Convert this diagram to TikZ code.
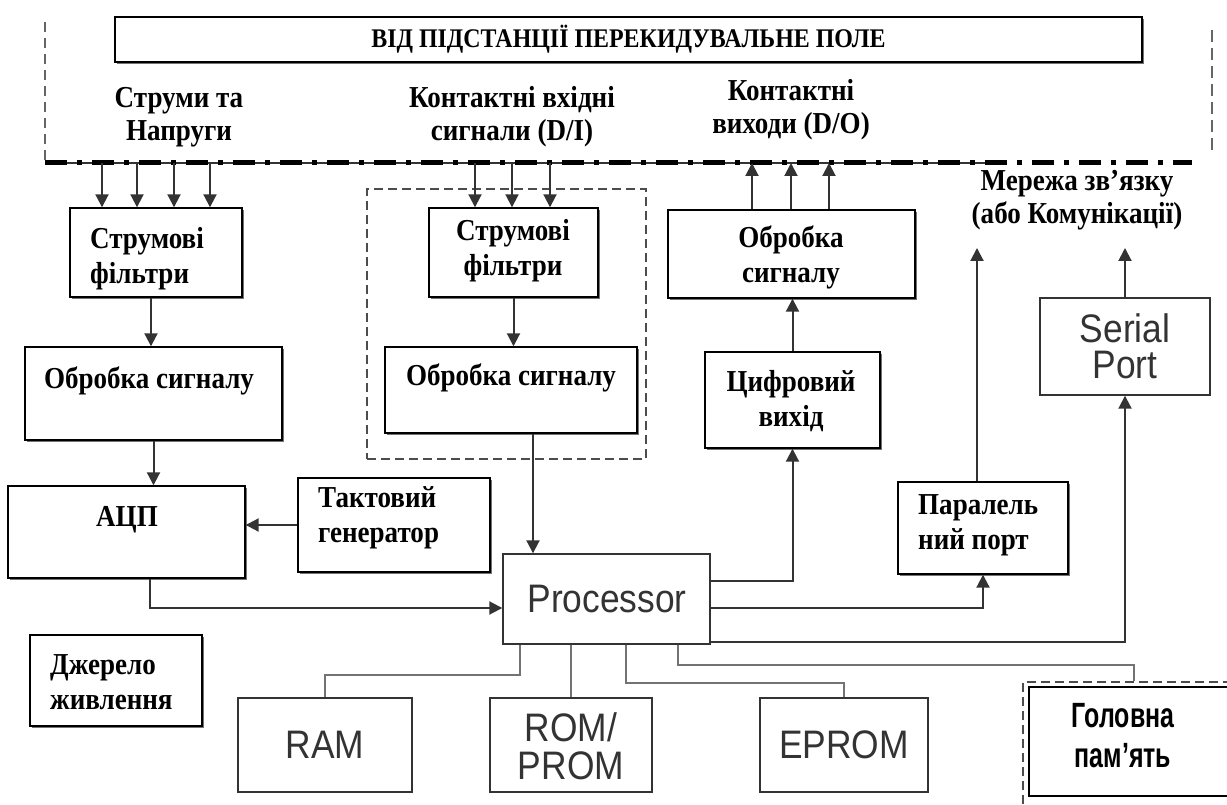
\documentclass[tikz,border=0pt]{standalone}
\usepackage{fontspec}
\usepackage{graphicx}
\setmainfont{Liberation Serif}
\newfontfamily\sansf{Liberation Sans}
\newfontfamily\narrowf[FakeStretch=0.8]{Liberation Sans}
\newcommand\sv[1]{\scalebox{1.04}[1.17]{#1}}
\usetikzlibrary{arrows.meta,fit,shadows}
\begin{document}
\begin{tikzpicture}[x=1pt,y=-1pt,
  box/.style={draw=black, line width=1.4pt, fill=white, inner sep=0pt,
    drop shadow={shadow xshift=1.6pt, shadow yshift=-1.6pt, fill=black!55, opacity=1}},
  pbox/.style={draw=black!80, line width=1.4pt, fill=white, inner sep=0pt},
  grp/.style={draw=black!70, line width=1.8pt, dash pattern=on 9pt off 5pt, inner sep=0pt},
  tx/.style={font=\fontsize{26}{35}\selectfont\bfseries, align=center, inner sep=0pt},
  txl/.style={tx, align=left, anchor=west},
  sx/.style={font=\sansf\fontsize{34}{37}\selectfont, text=black!80, align=center, inner sep=0pt},
  conn/.style={draw=black!80, line width=2pt},
  arr/.style={conn, -{Triangle[width=13pt,length=13pt]}},
  gline/.style={draw=black!55, line width=1.8pt},
]
\useasboundingbox (0,0) rectangle (1227,805);

% frame lines
\draw[draw=black!60, line width=2pt, dash pattern=on 10pt off 6pt] (45,22) -- (45,160);
\draw[draw=black!60, line width=2pt, dash pattern=on 12pt off 6pt] (1212,30) -- (1212,155);
\draw[draw=black!80, line width=1.5pt] (45,163) -- (985,163);
\draw[draw=black, line width=5pt, dash pattern=on 22pt off 10pt on 5pt off 10pt] (45,163) -- (1192,163);

% top box
\node[box, fit={(115,17) (1142,62)}] (top) {};
\node[tx, font=\fontsize{23}{25}\selectfont\bfseries] at (top.center) {\sv{ВІД ПІДСТАНЦІЇ ПЕРЕКИДУВАЛЬНЕ ПОЛЕ}};

% top labels
\node[tx, font=\fontsize{26}{33}\selectfont\bfseries] (lab1) at (179,117) {\sv{Струми та}\\\sv{Напруги}};
\node[tx, font=\fontsize{26}{33}\selectfont\bfseries] (lab2) at (512,117) {\sv{Контактні вхідні}\\\sv{сигнали (D/I)}};
\node[tx, font=\fontsize{26}{33}\selectfont\bfseries] (lab3) at (791,110) {\sv{Контактні}\\\sv{виходи (D/O)}};
\node[tx, font=\fontsize{26}{33}\selectfont\bfseries] (lab4) at (1077,200) {\sv{Мережа зв'язку}\\\sv{(або Комунікації)}};

% dashed group
\node[grp, fit={(367,189) (646,459)}] (group) {};

% boxes
\node[box, fit={(70,208) (242,297)}] (sf1) {};
\node[box, fit={(25,347) (282,440)}] (os1) {};
\node[box, fit={(8,486) (245,578)}] (adc) {};
\node[box, fit={(298,478) (490,572)}] (takt) {};
\node[box, fit={(429,208) (598,297)}] (sf2) {};
\node[box, fit={(385,347) (637,433)}] (os2) {};
\node[pbox, fit={(503,554) (710,644)}] (proc) {};
\node[box, fit={(668,210) (915,298)}] (os3) {};
\node[box, fit={(705,352) (880,448)}] (dig) {};
\node[box, fit={(898,482) (1068,574)}] (par) {};
\node[pbox, fit={(1040,298) (1210,395)}] (serial) {};
\node[box, fit={(30,635) (202,726)}] (power) {};
\node[pbox, fit={(238,698) (412,792)}] (ram) {};
\node[pbox, fit={(490,698) (652,792)}] (rom) {};
\node[pbox, fit={(760,698) (928,792)}] (eprom) {};
\node[grp, fit={(1023,682) (1250,815)}] (mainout) {};
\node[draw=black, line width=1.4pt, fill=white, inner sep=0pt, fit={(1029,687) (1245,796)}] (mainmem) {};

% texts
\node[txl] at (90,259) {\sv{Струмові}\\\sv{фільтри}};
\node[tx] at (149,381) {\sv{Обробка сигналу}};
\node[tx] at (127,520) {\sv{АЦП}};
\node[txl] at (318,518) {\sv{Тактовий}\\\sv{генератор}};
\node[tx] at (513,251) {\sv{Струмові}\\\sv{фільтри}};
\node[tx] at (511,378) {\sv{Обробка сигналу}};
\node[sx] at (607,599) {\sv{Processor}};
\node[tx] at (791,257) {\sv{Обробка}\\\sv{сигналу}};
\node[tx] at (791,401) {\sv{Цифровий}\\\sv{вихід}};
\node[txl] at (918,525) {\sv{Паралель}\\\sv{ний порт}};
\node[sx, font=\sansf\fontsize{34}{36}\selectfont] at (1125,346) {\sv{Serial}\\\sv{Port}};
\node[txl] at (50,682) {\sv{Джерело}\\\sv{живлення}};
\node[sx] at (325,745) {\sv{RAM}};
\node[sx, font=\sansf\fontsize{34}{38}\selectfont] at (571,746) {\sv{ROM/}\\\sv{PROM}};
\node[sx] at (844,745) {\sv{EPROM}};
\node[font=\narrowf\bfseries\fontsize{30}{40}\selectfont, align=center, inner sep=0pt] at (1123,736) {\sv{Головна}\\\sv{пам’ять}};

% coordinates on the field line
\coordinate (a1) at (102,163); \coordinate (a2) at (137,163);
\coordinate (a3) at (174,163); \coordinate (a4) at (210,163);
\coordinate (b1) at (475,163); \coordinate (b2) at (512,163);
\coordinate (b3) at (550,163);
\coordinate (c1) at (752,163); \coordinate (c2) at (791,163);
\coordinate (c3) at (829,163);
\coordinate (m1) at (977,248); \coordinate (m2) at (1125,248);
\coordinate (rj) at (325,675); \coordinate (ej) at (844,683);
\coordinate (mj) at (1134,665);

% connectors
\foreach \p in {a1,a2,a3,a4} \draw[arr] (\p) -- (\p |- sf1.north);
\foreach \p in {b1,b2,b3} \draw[arr] (\p) -- (\p |- sf2.north);
\foreach \p in {c1,c2,c3} \draw[arr] (\p |- os3.north) -- (\p);
\draw[arr] ([xshift=-5pt]sf1.south) -- ([xshift=-5pt]sf1.south |- os1.north);
\draw[arr] (os1.south) -- (os1.south |- adc.north);
\draw[arr] (takt.west) -- (takt.west -| adc.east);
\draw[arr] ([xshift=23pt]adc.south) |- ([yshift=-9pt]proc.west);
\draw[arr] (sf2.south) -- (sf2.south |- os2.north);
\draw[arr] ([xshift=22pt]os2.south) -- ([xshift=22pt]os2.south |- proc.north);
\draw[arr] (dig.north) -- (dig.north |- os3.south);
\draw[arr] ([yshift=18pt]proc.east) -| (dig.south);
\draw[arr] ([yshift=-9pt]proc.east) -| (par.south);
\draw[arr] ([yshift=-43pt]proc.east) -| (serial.south);
\draw[arr] (serial.north) -- (m2);
\draw[arr] (m1 |- par.north) -- (m1);

\draw[gline] ([xshift=-86.5pt]proc.south) |- (rj) -- (ram.north);
\draw[gline] (rom.north |- proc.south) -- (rom.north);
\draw[gline] ([xshift=19.5pt]proc.south) |- (ej) -- (eprom.north);
\draw[gline] ([xshift=71.5pt]proc.south) |- (mj) -- (mj |- mainout.north);
\end{tikzpicture}
\end{document}
